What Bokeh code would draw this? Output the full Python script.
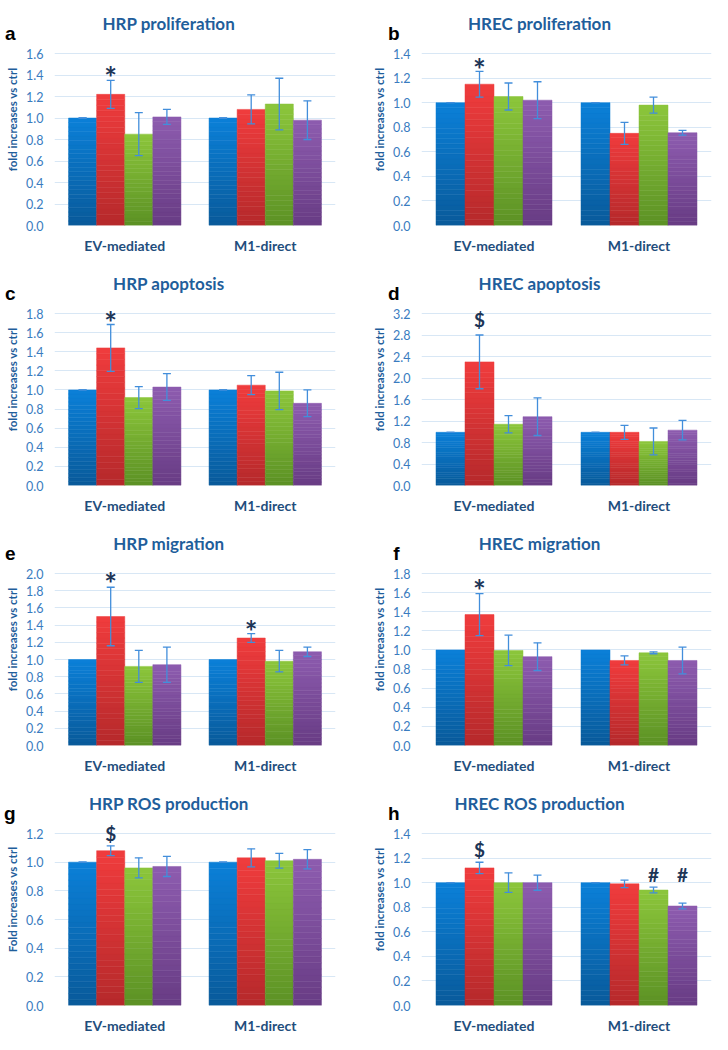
from bokeh.plotting import figure
from bokeh.models import (ColumnDataSource, Range1d, FactorRange, Whisker, TeeHead, Label,
                          FixedTicker, NumeralTickFormatter, LinearAxis)
from bokeh.transform import dodge
from bokeh.layouts import gridplot
from bokeh.embed import file_html
from bokeh.resources import INLINE
from bokeh.core.properties import value

categories = ["EV-mediated", "M1-direct"]
series_names = ["ctrl", "cond1", "cond2", "cond3"]
# (top colour, bottom colour) of each series' gradient fill
series_top_colors = ["#0B80D8", "#F03C3D", "#8CC63B", "#8D5CAF"]
series_bottom_colors = ["#095A9A", "#B5292B", "#5C9125", "#683C84"]

titles = ["HRP proliferation", "HREC proliferation", "HRP apoptosis", "HREC apoptosis",
          "HRP migration", "HREC migration", "HRP ROS production", "HREC ROS production"]
letters = ["a", "b", "c", "d", "e", "f", "g", "h"]
ylabels = ["fold increases vs ctrl"] * 6 + ["Fold increases vs ctrl", "fold increases vs ctrl"]
y_max = [1.6, 1.4, 1.8, 3.2, 2.0, 1.8, 1.2, 1.4]
y_step = [0.2, 0.2, 0.2, 0.4, 0.2, 0.2, 0.2, 0.2]

# means per panel: EV-mediated (4 series), M1-direct (4 series)
a_ev = [1.00, 1.22, 0.85, 1.01]; a_m1 = [1.00, 1.08, 1.13, 0.98]
b_ev = [1.00, 1.15, 1.05, 1.02]; b_m1 = [1.00, 0.75, 0.98, 0.755]
c_ev = [1.00, 1.44, 0.92, 1.03]; c_m1 = [1.00, 1.05, 0.99, 0.86]
d_ev = [0.99, 2.30, 1.14, 1.28]; d_m1 = [0.99, 0.99, 0.82, 1.03]
e_ev = [1.00, 1.50, 0.92, 0.94]; e_m1 = [1.00, 1.25, 0.98, 1.09]
f_ev = [1.00, 1.37, 0.995, 0.93]; f_m1 = [1.00, 0.89, 0.97, 0.89]
g_ev = [1.00, 1.08, 0.96, 0.97]; g_m1 = [1.00, 1.03, 1.01, 1.02]
h_ev = [1.00, 1.12, 1.00, 1.00]; h_m1 = [1.00, 0.99, 0.94, 0.81]

# error (half-length of error bars); None = no error bar drawn
a_ev_err = [0.0, 0.13, 0.20, 0.07]; a_m1_err = [0.0, 0.135, 0.24, 0.18]
b_ev_err = [0.0, 0.105, 0.11, 0.15]; b_m1_err = [0.0, 0.09, 0.065, 0.02]
c_ev_err = [0.0, 0.245, 0.115, 0.14]; c_m1_err = [0.0, 0.10, 0.195, 0.14]
d_ev_err = [0.0, 0.50, 0.16, 0.35]; d_m1_err = [0.0, 0.13, 0.25, 0.18]
e_ev_err = [None, 0.34, 0.185, 0.205]; e_m1_err = [None, 0.05, 0.125, 0.055]
f_ev_err = [None, 0.22, 0.16, 0.145]; f_m1_err = [None, 0.047, 0.01, 0.14]
g_ev_err = [0.0, 0.034, 0.07, 0.07]; g_m1_err = [0.0, 0.063, 0.052, 0.067]
h_ev_err = [0.0, 0.046, 0.08, 0.062]; h_m1_err = [0.0, 0.03, 0.023, 0.024]

# significance marks: (category, series index, symbol, y level)
a_marks = [("EV-mediated", 1, "*", 1.46)]
b_marks = [("EV-mediated", 1, "*", 1.34)]
c_marks = [("EV-mediated", 1, "*", 1.80)]
d_marks = [("EV-mediated", 1, "$", 3.08)]
e_marks = [("EV-mediated", 1, "*", 1.98), ("M1-direct", 1, "*", 1.42)]
f_marks = [("EV-mediated", 1, "*", 1.71)]
g_marks = [("EV-mediated", 1, "$", 1.20)]
h_marks = [("EV-mediated", 1, "$", 1.27), ("M1-direct", 2, "#", 1.07), ("M1-direct", 3, "#", 1.07)]

panels = [
    (a_ev, a_m1, a_ev_err, a_m1_err, a_marks),
    (b_ev, b_m1, b_ev_err, b_m1_err, b_marks),
    (c_ev, c_m1, c_ev_err, c_m1_err, c_marks),
    (d_ev, d_m1, d_ev_err, d_m1_err, d_marks),
    (e_ev, e_m1, e_ev_err, e_m1_err, e_marks),
    (f_ev, f_m1, f_ev_err, f_m1_err, f_marks),
    (g_ev, g_m1, g_ev_err, g_m1_err, g_marks),
    (h_ev, h_m1, h_ev_err, h_m1_err, h_marks),
]

FONT = "Lato"
TITLE_COLOR = "#1F5E9B"
TICK_COLOR = "#3A7CC0"
CAT_COLOR = "#1F4E7D"
ERR_COLOR = "#428EDB"
GRID_COLOR = "#D8E7F5"
MARK_COLOR = "#1D3557"
offsets = [-0.3, -0.1, 0.1, 0.3]
N_BANDS = 24

FRAME_W = 290
DATA_H = 172      # pixel height of the 0..ymax data area
EXTRA_H = 40      # frame space above the data area (title)
TOP, BOTTOM = 13, 35
PX_PER_UNIT_X = FRAME_W / 2.0


def hex_to_rgb(h):
    h = h.lstrip("#")
    return tuple(int(h[k:k + 2], 16) for k in (0, 2, 4))


def mix(c_bottom, c_top, t):
    a, b = hex_to_rgb(c_bottom), hex_to_rgb(c_top)
    return "#%02x%02x%02x" % tuple(int(round(a[k] + (b[k] - a[k]) * t)) for k in range(3))


def make_panel(i, left):
    ev, m1, ev_err, m1_err, marks = panels[i]
    ymax = y_max[i]
    step = y_step[i]
    n_ticks = int(round(ymax / step))
    ticks = [round(k * step, 3) for k in range(n_ticks + 1)]
    unit_y = ymax / DATA_H
    bl, br = (45, 21) if left else (65, 1)
    p = figure(x_range=FactorRange(*categories),
               y_range=Range1d(0, ymax * (DATA_H + EXTRA_H) / DATA_H),
               width=bl + FRAME_W + br, height=TOP + DATA_H + EXTRA_H + BOTTOM,
               min_border_left=bl, min_border_right=br, min_border_top=TOP, min_border_bottom=BOTTOM,
               output_backend="svg", toolbar_location=None)
    p.outline_line_color = None
    p.background_fill_color = "white"
    p.border_fill_color = "white"

    p.xgrid.grid_line_color = None
    p.ygrid.grid_line_color = GRID_COLOR
    p.ygrid.grid_line_width = 1

    p.yaxis.ticker = FixedTicker(ticks=ticks)
    p.yaxis.formatter = NumeralTickFormatter(format="0.0")
    p.yaxis.axis_line_color = None
    p.yaxis.major_tick_line_color = None
    p.yaxis.minor_tick_line_color = None
    p.yaxis.major_tick_out = 0
    p.yaxis.major_tick_in = 0
    p.yaxis.minor_tick_out = 0
    p.yaxis.major_label_standoff = 11
    p.yaxis.major_label_text_font = FONT
    p.yaxis.major_label_text_font_size = "12.5px"
    p.yaxis.major_label_text_color = TICK_COLOR
    p.yaxis.axis_label = ylabels[i]
    p.yaxis.axis_label_standoff = 4
    p.yaxis.axis_label_text_font = FONT
    p.yaxis.axis_label_text_font_style = "bold"
    p.yaxis.axis_label_text_font_size = "11.5px"
    p.yaxis.axis_label_text_color = TITLE_COLOR

    p.xaxis.axis_line_color = None
    p.xaxis.major_tick_line_color = None
    p.xaxis.minor_tick_line_color = None
    p.xaxis.major_tick_out = 0
    p.xaxis.major_tick_in = 0
    p.xaxis.major_label_standoff = 11
    p.xaxis.major_label_text_font = FONT
    p.xaxis.major_label_text_font_style = "bold"
    p.xaxis.major_label_text_font_size = "14px"
    p.xaxis.major_label_text_color = CAT_COLOR

    # panel letter: an outer left axis carrying a single labelled tick
    letter_y = ymax + 20 * unit_y
    letter_axis = LinearAxis(ticker=FixedTicker(ticks=[letter_y]),
                             major_label_overrides={letter_y: letters[i]},
                             axis_line_color=None, major_tick_line_color=None,
                             minor_tick_line_color=None, major_tick_out=0, major_tick_in=0,
                             minor_tick_out=0, major_label_standoff=-12 if left else -29,
                             major_label_text_font="Liberation Sans",
                             major_label_text_font_style="bold",
                             major_label_text_font_size="19px",
                             major_label_text_color="black")
    p.add_layout(letter_axis, "left")

    for j in range(4):
        means = [ev[j], m1[j]]
        # vertical colour gradient: each bar is split into bands from its own value
        cats, tops, bottoms, cols = [], [], [], []
        for c, m in zip(categories, means):
            for k in range(N_BANDS):
                cats.append(c)
                bottoms.append(m * k / N_BANDS)
                tops.append(m * (k + 1) / N_BANDS)
                cols.append(mix(series_bottom_colors[j], series_top_colors[j], (k + 0.5) / N_BANDS))
        src = ColumnDataSource(dict(cat=cats, top=tops, bottom=bottoms, color=cols))
        p.vbar(x=dodge("cat", offsets[j], range=p.x_range), top="top", bottom="bottom", width=0.2,
               source=src, fill_color="color", line_color="color", line_width=0.5)

        errs = [ev_err[j], m1_err[j]]
        ecats = [c for c, e in zip(categories, errs) if e is not None]
        emeans = [m for m, e in zip(means, errs) if e is not None]
        evals = [e for e in errs if e is not None]
        if ecats:
            esrc = ColumnDataSource(dict(cat=ecats,
                                         upper=[m + e for m, e in zip(emeans, evals)],
                                         lower=[m - e for m, e in zip(emeans, evals)]))
            w = Whisker(base=dodge("cat", offsets[j], range=p.x_range), upper="upper", lower="lower",
                        source=esrc, line_color=ERR_COLOR, line_width=1.3, level="overlay",
                        upper_head=TeeHead(size=8, line_color=ERR_COLOR, line_width=1.3),
                        lower_head=TeeHead(size=8, line_color=ERR_COLOR, line_width=1.3))
            p.add_layout(w)

    for (cat, sidx, sym, yv) in marks:
        msrc = ColumnDataSource(dict(cat=[cat], y=[yv], t=[sym]))
        p.text(x=dodge("cat", offsets[sidx], range=p.x_range), y="y", text="t", source=msrc,
               text_align="center", text_baseline="middle",
               text_font=value(FONT), text_font_style="bold",
               text_font_size="30px" if sym == "*" else "19px",
               y_offset=8 if sym == "*" else 0,
               text_color=MARK_COLOR)

    p.add_layout(Label(x=1.0 - 27 / PX_PER_UNIT_X, y=ymax + 30 * unit_y, text=titles[i],
                       text_align="center", text_baseline="alphabetic",
                       text_font=FONT, text_font_style="bold", text_font_size="17px",
                       text_color=TITLE_COLOR))
    return p


figs = [make_panel(i, i % 2 == 0) for i in range(8)]
grid = gridplot([[figs[0], figs[1]], [figs[2], figs[3]], [figs[4], figs[5]], [figs[6], figs[7]]],
                toolbar_location=None)

open("out.html", "w").write(file_html(grid, INLINE))
